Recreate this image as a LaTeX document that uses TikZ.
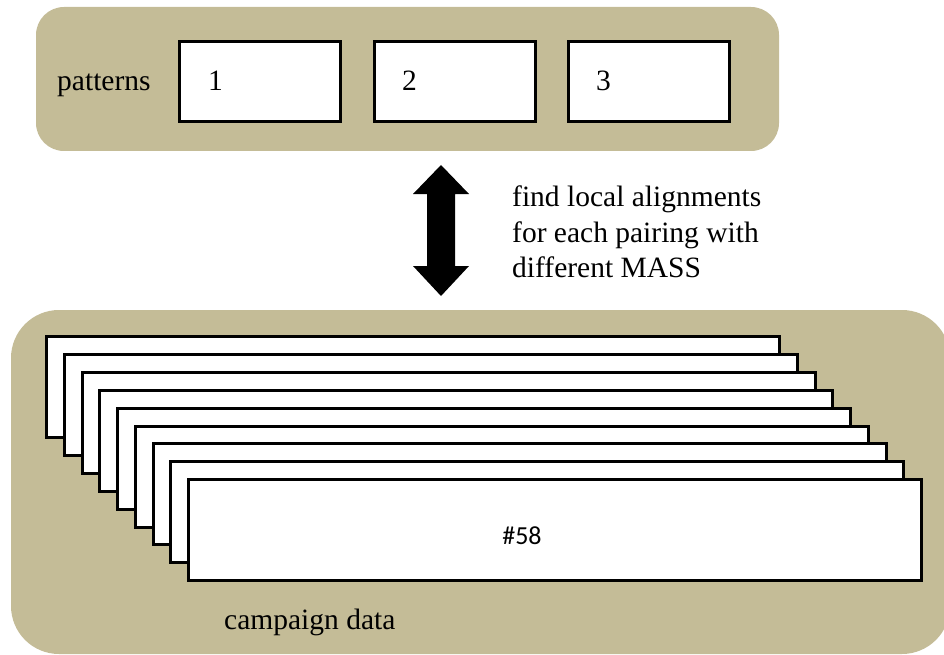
\documentclass[tikz,border=0pt]{standalone}
\usepackage{fontspec}
\setmainfont{Liberation Serif}
\newfontfamily\calib{Carlito}
\definecolor{panel}{RGB}{196,188,151}
\begin{document}
\begin{tikzpicture}[x=1pt,y=-1pt,
  txt/.style={inner sep=0pt,anchor=base west,font=\fontsize{29.5}{36}\selectfont},
  panelbox/.style={fill=panel,draw=none},
  pbox/.style={draw=black,fill=white,line width=3pt,inner sep=0pt,
    minimum width=161pt,minimum height=80pt,anchor=north west},
  sheet/.style={draw=black,fill=white,line width=3pt,inner sep=0pt,
    minimum width=733pt,minimum height=101pt,anchor=north west}]
\useasboundingbox (0,0) rectangle (944,655);
\clip (0,0) rectangle (944,655);

% panels
\fill[panelbox,rounded corners=28pt] (36,7) rectangle (779,151);
\fill[panelbox,rounded corners=48pt] (11,310) rectangle (950,654);

% pattern boxes
\node[txt] (plab) at (57,91) {patterns};
\node[pbox] (b1) at (178,40) {};
\node[pbox] (b2) at (373,40) {};
\node[pbox] (b3) at (567,40) {};
\node[txt] (n1) at (208,91) {1};
\node[txt] (n2) at (402,91) {2};
\node[txt] (n3) at (596,91) {3};

% double-headed arrow
\fill[black] (441,165) -- (469,194) -- (455,194) -- (455,266) -- (469,266)
  -- (441,296) -- (413,266) -- (427,266) -- (427,194) -- (413,194) -- cycle;

% annotation beside the arrow
\node[txt] (note1) at (512,206) {find local alignments};
\node[txt] (note2) at (512,242) {for each pairing with};
\node[txt] (note3) at (512,277) {different MASS};

% stacked campaign sheets
\foreach \i in {0,...,8}{
  \node[sheet] (s\i) at ({45+17.75*\i},{335+17.9*\i}) {};
}
\node[inner sep=0pt,font=\calib\fontsize{26}{30}\selectfont] (last) at (522,536) {\#58};

\node[txt] (clab) at (224,629) {campaign data};
\end{tikzpicture}
\end{document}
